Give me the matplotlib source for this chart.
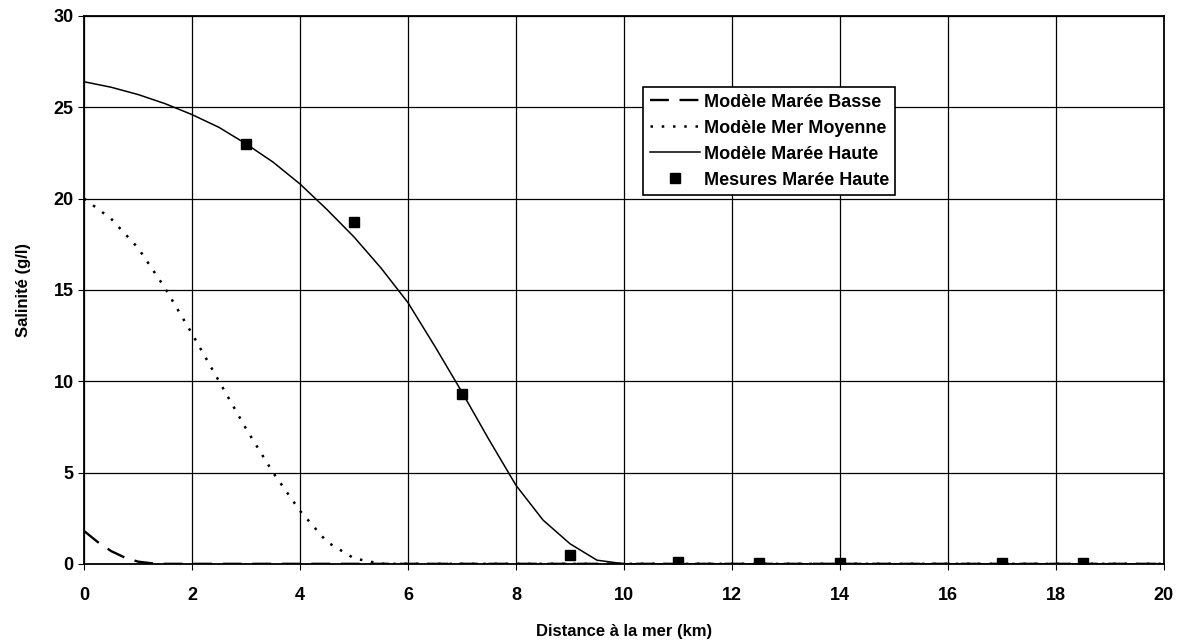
import matplotlib
matplotlib.use("Agg")
import matplotlib.pyplot as plt

plt.rcParams['font.family'] = ['Liberation Sans', 'DejaVu Sans']
plt.rcParams['font.weight'] = 'bold'

# modele maree haute (trait plein)
x_haute = [0, 0.5, 1, 1.5, 2, 2.5, 3, 3.5, 4, 4.5, 5, 5.5, 6, 6.5, 7, 7.5, 8, 8.5, 9, 9.5, 10, 20]
s_haute = [26.4, 26.1, 25.7, 25.2, 24.6, 23.9, 23.0, 22.0, 20.8, 19.4, 17.9, 16.2, 14.3, 11.9, 9.4, 6.8, 4.3, 2.4, 1.1, 0.2, 0.0, 0.0]

# modele mer moyenne (pointilles)
x_moy = [0, 0.5, 1, 1.5, 2, 2.5, 3, 3.5, 4, 4.5, 5, 5.5, 20]
s_moy = [20.0, 18.9, 17.3, 15.1, 12.6, 10.0, 7.4, 5.0, 2.9, 1.2, 0.3, 0.0, 0.0]

# modele maree basse (tirets)
x_basse = [0, 0.25, 0.5, 0.75, 1, 1.25, 1.5, 20]
s_basse = [1.8, 1.2, 0.7, 0.35, 0.12, 0.03, 0.0, 0.0]

# mesures maree haute
x_mes = [3, 5, 7, 9, 11, 12.5, 14, 17, 18.5]
s_mes = [23.0, 18.7, 9.3, 0.5, 0.1, 0.05, 0.05, 0.05, 0.05]

fig = plt.figure(figsize=(11.84, 6.4), dpi=100)
ax = fig.add_axes([0.071, 0.119, 0.912, 0.856])

ax.plot(x_basse, s_basse, color='black', linestyle=(0, (8, 4.5)), linewidth=1.7, label='Modèle Marée Basse')
ax.plot(x_moy, s_moy, color='black', linestyle=(0, (1, 3.5)), linewidth=1.8, label='Modèle Mer Moyenne')
ax.plot(x_haute, s_haute, color='black', linestyle='-', linewidth=1.1, label='Modèle Marée Haute')
ax.plot(x_mes, s_mes, linestyle='none', marker='s', markersize=7, color='black', label='Mesures Marée Haute')

ax.set_xlim(0, 20)
ax.set_ylim(0, 30)
ax.set_xticks(range(0, 21, 2))
ax.set_yticks(range(0, 31, 5))
ax.grid(True, color='black', linewidth=0.9)
for sp in ax.spines.values():
    sp.set_linewidth(1.3)
ax.tick_params(axis='both', labelsize=13, direction='out', length=4, color='black')
ax.tick_params(axis='x', pad=13)
ax.set_xlabel('Distance à la mer (km)', fontsize=12, fontweight='bold', labelpad=14)
ax.set_ylabel('Salinité (g/l)', fontsize=12, fontweight='bold', labelpad=16)

leg = ax.legend(loc='upper left', bbox_to_anchor=(0.518, 0.87), fontsize=13, frameon=True,
                fancybox=False, edgecolor='black', framealpha=1, handlelength=2.8,
                borderpad=0.35, labelspacing=0.5, handletextpad=0.2, borderaxespad=0)
leg.get_frame().set_linewidth(1.2)

fig.savefig('out.png', dpi=100)
